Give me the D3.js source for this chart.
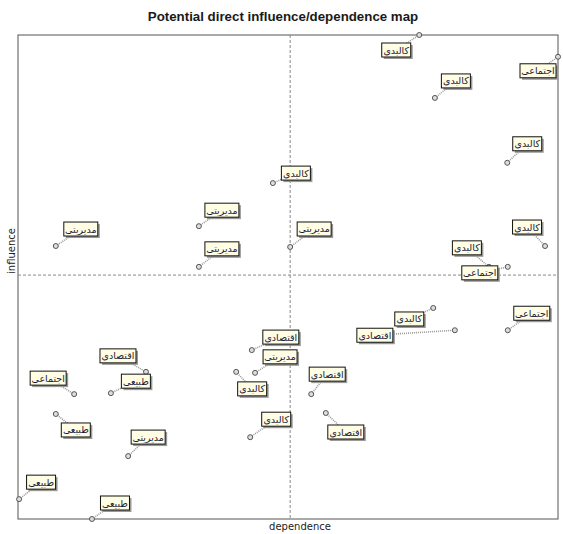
<!DOCTYPE html>
<html>
<head>
<meta charset="utf-8">
<script src="https://cdn.jsdelivr.net/npm/d3@7"></script>
<style>
  body { margin: 0; background: #fff; }
  svg { display: block; }
</style>
</head>
<body>
<svg id="chart" width="563" height="534"></svg>
<script>
// variables (labels in persian)
const names = ["کالبدی","کالبدی","اجتماعی","کالبدی","کالبدی","کالبدی","مدیریتی","مدیریتی","مدیریتی","مدیریتی",
  "اجتماعی","کالبدی","کالبدی","اقتصادی","اجتماعی","اقتصادی","مدیریتی","کالبدی","اقتصادی","کالبدی",
  "اقتصادی","اجتماعی","طبیعی","اقتصادی","طبیعی","مدیریتی","طبیعی","طبیعی"]
const dependence = [74.3,77.2,100,90.6,97.6,47.2,33.5,33.5,50.4,7.0,
  90.7,87.2,76.9,80.9,90.7,43.3,43.9,40.4,54.3,43.0,
  57.0,10.4,17.2,23.7,7.0,20.4,0.2,13.7]
const influence = [100,87.0,95.5,73.6,56.4,69.4,60.5,52.1,56.2,56.4,
  52.1,52.1,43.6,39.0,39.0,34.9,30.2,30.4,25.8,16.9,
  21.9,25.8,26.0,30.4,21.7,13.0,4.1,0]
const midDependence = 50.4
const midInfluence = 50.4

// where each tag sits relative to its point (px), like the label placer did
const labelNudge = [[-23,15],[21,-17],[-20,14],[20,-19],[-18,-19],[23,-10],[23,-16],[23,-18],[24,-18],[25,-17],
  [-28,6],[-22,-19],[-24,11],[-80,5],[24,-17],[29,-13],[25,-16],[16,17],[16,-20],[26,-18],
  [20,19],[-26,-16],[25,-12],[-28,-16],[20,16],[20,-19],[22,-17],[23,-16]]

const svg = d3.select('#chart')
const plotL = 18, plotR = 558, plotT = 35, plotB = 519

const x = d3.scaleLinear().domain([0,100]).range([plotL,plotR])
const y = d3.scaleLinear().domain([0,100]).range([plotB,plotT])

// title
svg.append('text')
  .attr('x', 283).attr('y', 21)
  .attr('text-anchor','middle')
  .style('font-family','"Liberation Sans", Arial, sans-serif')
  .style('font-size','13.3px').style('font-weight','bold')
  .attr('fill','#1a1a1a')
  .text('Potential direct influence/dependence map')

// frame
svg.append('rect')
  .attr('x', plotL).attr('y', plotT)
  .attr('width', plotR-plotL).attr('height', plotB-plotT)
  .attr('fill','none').attr('stroke','#555').attr('stroke-width',1)

// quadrant lines
svg.append('line')
  .attr('x1', x(midDependence)).attr('x2', x(midDependence))
  .attr('y1', plotT).attr('y2', plotB)
  .attr('stroke','#888').attr('stroke-dasharray','3,2')
svg.append('line')
  .attr('x1', plotL).attr('x2', plotR)
  .attr('y1', y(midInfluence)).attr('y2', y(midInfluence))
  .attr('stroke','#888').attr('stroke-dasharray','3,2')

// axis titles
svg.append('text')
  .attr('x', 300).attr('y', 530)
  .attr('text-anchor','middle')
  .style('font-family','"DejaVu Sans", sans-serif')
  .style('font-size','10px')
  .attr('fill','#222')
  .text('dependence')
svg.append('text')
  .attr('transform','translate(15,251) rotate(-90)')
  .attr('text-anchor','middle')
  .style('font-family','"DejaVu Sans", sans-serif')
  .style('font-size','10px')
  .attr('fill','#222')
  .text('influence')

const pts = names.map((n,i) => ({
  name: n, dep: dependence[i], inf: influence[i],
  lx: x(dependence[i]) + labelNudge[i][0],
  ly: y(influence[i]) + labelNudge[i][1]
}))

// connector lines
svg.append('g').selectAll('line')
  .data(pts).enter().append('line')
  .attr('x1', d => x(d.dep)).attr('y1', d => y(d.inf))
  .attr('x2', d => d.lx).attr('y2', d => d.ly)
  .attr('stroke','#999').attr('stroke-width',1.6)
  .attr('stroke-dasharray','1,1')

// points
svg.append('g').selectAll('circle')
  .data(pts).enter().append('circle')
  .attr('cx', d => x(d.dep)).attr('cy', d => y(d.inf))
  .attr('r', 2.5)
  .attr('fill','#ddd').attr('stroke','#555').attr('stroke-width',1)

// tags
const tags = svg.append('g').selectAll('g')
  .data(pts).enter().append('g')
  .attr('transform', d => `translate(${d.lx},${d.ly})`)

tags.each(function(d){
  const g = d3.select(this)
  const shadow = g.append('rect')
  const box = g.append('rect')
  const t = g.append('text')
    .attr('text-anchor','middle')
    .attr('y', 3.5)
    .style('font-family','"DejaVu Sans", sans-serif')
    .style('font-size','9.5px')
    .attr('fill','#1a1a3a')
    .text(d.name)
  const w = Math.round(t.node().getComputedTextLength()) + 3
  const h = 14
  shadow.attr('x', -w/2 + 2).attr('y', -h/2 + 2)
    .attr('width', w).attr('height', h).attr('fill','#999')
  box.attr('x', -w/2).attr('y', -h/2)
    .attr('width', w).attr('height', h)
    .attr('fill','#fffde3').attr('stroke','#111').attr('stroke-width',1)
})
</script>
</body>
</html>
